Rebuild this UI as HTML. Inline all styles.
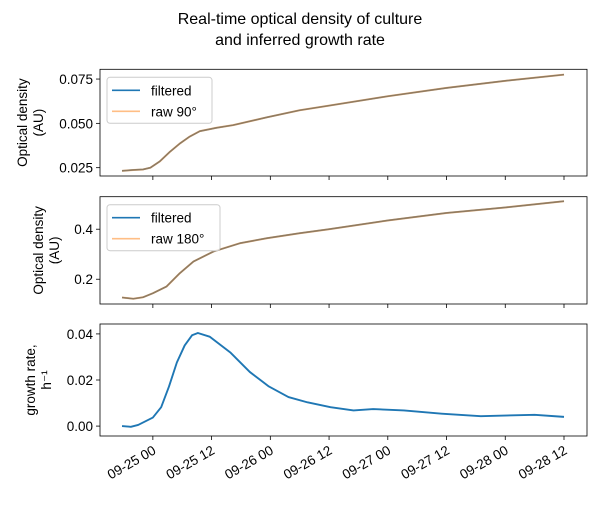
<!DOCTYPE html>
<html><head><meta charset="utf-8"><style>
body{margin:0;background:#fff}
svg text{font-family:"Liberation Sans","DejaVu Sans",sans-serif;fill:#000}
</style></head><body>
<svg id="c" width="600" height="500" xmlns="http://www.w3.org/2000/svg">
<text x="300" y="24" font-size="16" text-anchor="middle">Real-time optical density of culture</text>
<text x="300" y="45" font-size="16" text-anchor="middle">and inferred growth rate</text>
</svg>
<script>
const hours1=[-6.3,-4,-2,-0.5,1.4,3.5,5.5,7.5,9.6,13,16.4,23.3,30,36,48,60,72,84];
const od90=[0.0232,0.0237,0.024,0.025,0.0285,0.034,0.0386,0.0425,0.0456,0.0475,0.049,0.0534,0.0574,0.060,0.0653,0.070,0.074,0.0775];
const hours2=[-6.3,-4,-2,0,2.8,5.5,8.3,12.4,17.8,23.3,30,36,48,60,72,84];
const od180=[0.127,0.122,0.128,0.144,0.171,0.224,0.271,0.311,0.344,0.364,0.384,0.40,0.435,0.465,0.487,0.512];
const hours3=[-6.3,-4.5,-3,0,1.7,3.3,4.9,6.5,8,9.2,11.6,15.9,19.8,23.7,27.7,31.6,36.3,41,45,51.3,59,67,78,84];
const growth=[0,-0.0003,0.0005,0.0037,0.0082,0.0172,0.0276,0.035,0.0394,0.0404,0.0388,0.0318,0.0235,0.0172,0.0126,0.0103,0.0082,0.0068,0.0074,0.0068,0.0054,0.0043,0.0049,0.004];
const xTicks=[0,12,24,36,48,60,72,84];
const xTickLabels=["09-25 00","09-25 12","09-26 00","09-26 12","09-27 00","09-27 12","09-28 00","09-28 12"];
const y1Ticks=[0.025,0.050,0.075],y1Labels=["0.025","0.050","0.075"];
const y2Ticks=[0.2,0.4],y2Labels=["0.2","0.4"];
const y3Ticks=[0,0.02,0.04],y3Labels=["0.00","0.02","0.04"];

const svg=document.getElementById('c');const NS='http://www.w3.org/2000/svg';
function mk(t,a,p){const e=document.createElementNS(NS,t);for(const k in a)e.setAttribute(k,a[k]);(p||svg).appendChild(e);return e;}
const L=100,R=587;
const x=h=>L+(h+10.8)*(R-L)/(88.7+10.8);
function panel(top,bot,ymin,ymax,ticks,labels,series,legend,ylab,name,showX){
  const y=v=>bot-(v-ymin)*(bot-top)/(ymax-ymin);
  const g=mk('g',{});
  
  
  ticks.forEach((t,i)=>{
    mk('line',{x1:L-4,x2:L,y1:y(t),y2:y(t),stroke:'#000','stroke-width':0.8},g);
    const tx=mk('text',{x:L-7,y:y(t)+5,'font-size':13.5,'text-anchor':'end'},g);tx.textContent=labels[i];
    
    
  });
  xTicks.forEach((t,i)=>{
    mk('line',{x1:x(t),x2:x(t),y1:bot,y2:bot+4,stroke:'#000','stroke-width':0.8},g);
    if(showX){const tx=mk('text',{x:0,y:0,'font-size':13.5,'text-anchor':'end',transform:`translate(${x(t)+4},${bot+17}) rotate(-30)`},g);tx.textContent=xTickLabels[i];
    
    }
  });
  series.forEach(s=>{
    const pts=s.h.map((h,i)=>x(h)+','+y(s.v[i])).join(' ');
    const p=mk('polyline',{points:pts,fill:'none',stroke:s.c,'stroke-width':s.w||1.6,opacity:s.o||1,'stroke-linejoin':'round'},g);
    
    
  });
  mk('rect',{x:L,y:top,width:R-L,height:bot-top,fill:'none',stroke:'#000','stroke-width':0.8},g);
  const yl=mk('text',{'font-size':13.5,'text-anchor':'middle',transform:`translate(${ylab.x},${(top+bot)/2}) rotate(-90)`},g);
  ylab.lines.forEach((ln,i)=>{const ts=mk('tspan',{x:0,dy:i?16:0},yl);ts.textContent=ln;});
  
  
  if(legend){
    const lg=mk('g',{},g);
    
    
    mk('rect',{x:107,y:top+8,width:legend.w,height:46,rx:3,fill:'#fff',stroke:'#ccc','fill-opacity':0.8},lg);
    legend.items.forEach((it,i)=>{
      const yy=top+21+i*21;
      mk('line',{x1:112,x2:140,y1:yy,y2:yy,stroke:it.c,'stroke-width':1.6,opacity:it.o||1},lg);
      const t=mk('text',{x:151,y:yy+5,'font-size':13.5},lg);t.textContent=it.t;
      
      
    });
  }
}
panel(69.3,176,0.0203,0.0805,y1Ticks,y1Labels,
 [{h:hours1,v:od90,c:'#1f77b4',n:'filtered-line-90'},{h:hours1,v:od90,c:'#ff7f0e',o:0.5,w:2,n:'raw-90-line'}],
 {w:105,items:[{c:'#1f77b4',t:'filtered'},{c:'#ff7f0e',o:0.5,t:'raw 90°'}]},
 {x:27,lines:['Optical density','(AU)']},'od-90-panel',false);
panel(196.7,304,0.101,0.530,y2Ticks,y2Labels,
 [{h:hours2,v:od180,c:'#1f77b4',n:'filtered-line-180'},{h:hours2,v:od180,c:'#ff7f0e',o:0.5,w:2,n:'raw-180-line'}],
 {w:113,items:[{c:'#1f77b4',t:'filtered'},{c:'#ff7f0e',o:0.5,t:'raw 180°'}]},
 {x:43,lines:['Optical density','(AU)']},'od-180-panel',false);
panel(324,436,-0.0043,0.0443,y3Ticks,y3Labels,
 [{h:hours3,v:growth,c:'#1f77b4',w:1.9,n:'growth-rate-line'}],null,
 {x:35,lines:['growth rate,','h⁻¹']},'growth-panel',true);
</script>
</body></html>
